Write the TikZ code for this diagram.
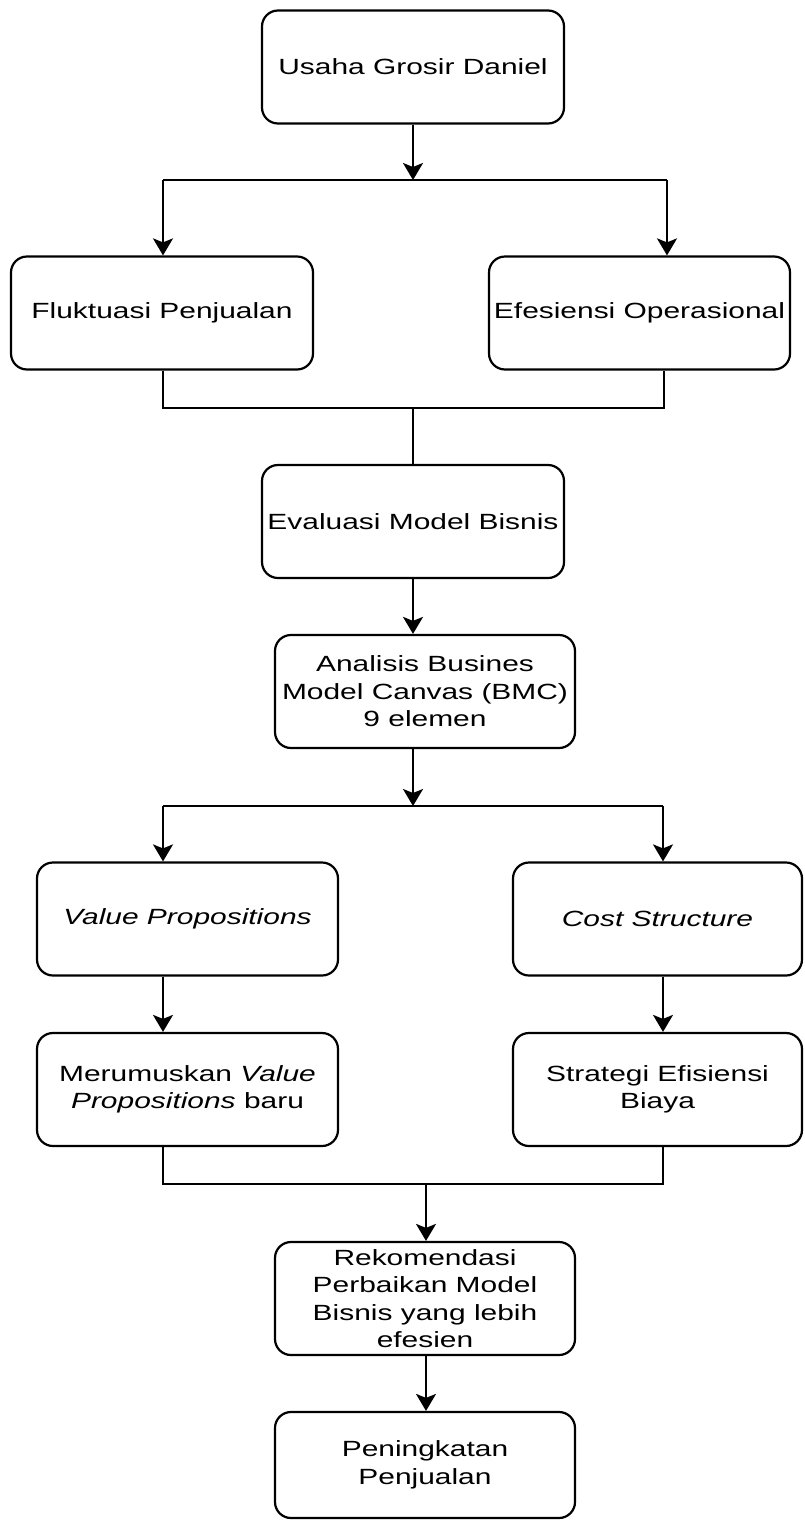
\documentclass[tikz,border=0pt]{standalone}
\usepackage{fontspec}
\setmainfont{Liberation Sans}[FakeStretch=1.36]
\usetikzlibrary{arrows.meta}
\begin{document}
\begin{tikzpicture}[x=1pt,y=-1pt,
  box/.style={draw=black, line width=2.2pt, rounded corners=16pt, fill=white,
    inner sep=0pt, align=center, minimum height=113pt,
    font=\fontsize{22pt}{27.5pt}\selectfont},
  line/.style={draw=black, line width=2.2pt},
  arr/.style={line, -{Stealth[length=17pt,width=20pt,inset=4pt]}}]
\useasboundingbox[fill=white] (0,0) rectangle (804,1521);

\node[box, minimum width=302pt] (usaha) at (413,67) {Usaha Grosir Daniel};
\node[box, minimum width=302pt] (fluk) at (162,313) {Fluktuasi Penjualan};
\node[box, minimum width=301pt] (efes) at (639.5,313) {Efesiensi Operasional};
\node[box, minimum width=302pt] (eval) at (413,521.5) {Evaluasi Model Bisnis};
\node[box, minimum width=300pt] (anal) at (425,691.5) {Analisis Busines\\Model Canvas (BMC)\\9 elemen};
\node[box, minimum width=301pt] (value) at (187.5,919) {\itshape Value Propositions};
\node[box, minimum width=289pt] (cost) at (657.5,919) {\itshape Cost Structure};
\node[box, minimum width=301pt] (meru) at (187.5,1089.5) {Merumuskan \textit{Value}\\\textit{Propositions} baru};
\node[box, minimum width=289pt] (strat) at (657.5,1089.5) {Strategi Efisiensi\\Biaya};
\node[box, minimum width=300pt] (rekom) at (425,1298.5) {Rekomendasi\\Perbaikan Model\\Bisnis yang lebih\\efesien};
\node[box, minimum width=300pt, minimum height=106pt] (pen) at (425,1465) {Peningkatan\\Penjualan};

\coordinate (j1) at (413,180);
\coordinate (j1l) at (163,180);
\coordinate (j1r) at (667,180);
\coordinate (m1) at (413,408);
\coordinate (m1l) at (163,408);
\coordinate (m1r) at (664,408);
\coordinate (j2) at (413,806);
\coordinate (j2l) at (163,806);
\coordinate (j2r) at (663,806);
\coordinate (m2) at (426,1184);
\coordinate (m2l) at (163,1184);
\coordinate (m2r) at (663,1184);

\draw[arr] (usaha.south) -- (j1);
\draw[line] (j1l) -- (j1r);
\draw[arr] (j1l) -- (j1l |- fluk.north);
\draw[arr] (j1r) -- (j1r |- efes.north);

\draw[line] (m1l |- fluk.south) -- (m1l) -- (m1r) -- (m1r |- efes.south);
\draw[line] (m1) -- (eval.north);

\draw[arr] (eval.south) -- (eval.south |- anal.north);
\draw[arr] (eval.south |- anal.south) -- (j2);
\draw[line] (j2l) -- (j2r);
\draw[arr] (j2l) -- (j2l |- value.north);
\draw[arr] (j2r) -- (j2r |- cost.north);

\draw[arr] (j2l |- value.south) -- (j2l |- meru.north);
\draw[arr] (j2r |- cost.south) -- (j2r |- strat.north);

\draw[line] (m2l |- meru.south) -- (m2l) -- (m2r) -- (m2r |- strat.south);
\draw[arr] (m2) -- (m2 |- rekom.north);
\draw[arr] (m2 |- rekom.south) -- (m2 |- pen.north);
\end{tikzpicture}
\end{document}
